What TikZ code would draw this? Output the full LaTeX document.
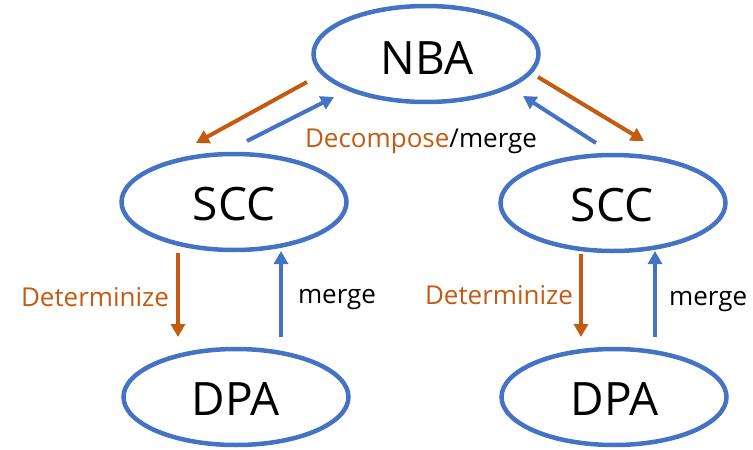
\documentclass[tikz,border=0pt]{standalone}
\usepackage{fontspec}
\setmainfont{Open Sans}
\usetikzlibrary{shapes.geometric,arrows.meta}
\definecolor{eblue}{HTML}{4472C4}
\definecolor{eorange}{HTML}{C55A11}
\tikzset{
  state/.style={ellipse,draw=eblue,line width=4.5pt,minimum width=225pt,minimum height=96pt,inner sep=0pt},
  big/.style={font=\fontsize{46}{46}\selectfont,text=black,anchor=base},
  lbl/.style={font=\fontsize{26}{26}\selectfont,anchor=base,inner sep=0pt},
  oarr/.style={draw=eorange,line width=4pt,-{Triangle[length=13pt,width=14pt]}},
  barr/.style={draw=eblue,line width=4pt,-{Triangle[length=13pt,width=14pt]}}
}
\begin{document}
\begin{tikzpicture}[x=1pt,y=-1pt]
\useasboundingbox (0,0) rectangle (753,450);
\node[state] (nba) at (426,54) {};
\node[state] (sccl) at (234,202) {};
\node[state] (sccr) at (613,203) {};
\node[state] (dpal) at (236,397) {};
\node[state] (dpar) at (614,397) {};
\node[big] (tnba) at (427,74) {NBA};
\node[big] (tsccl) at (234,220) {SCC};
\node[big] (tsccr) at (612,221) {SCC};
\node[big] (tdpal) at (236,415) {DPA};
\node[big] (tdpar) at (615,415) {DPA};
% arrow endpoints
\coordinate (o1s) at (307,82); \coordinate (o1e) at (196,143);
\coordinate (b1s) at (247,141); \coordinate (b1e) at (334,97);
\coordinate (o2s) at (538,77); \coordinate (o2e) at (644,141);
\coordinate (b2s) at (596,143); \coordinate (b2e) at (523,96);
\coordinate (o3s) at (178,253); \coordinate (o3e) at (178,337);
\coordinate (b3s) at (281,337); \coordinate (b3e) at (281,251);
\coordinate (o4s) at (581,254); \coordinate (o4e) at (581,337);
\coordinate (b4s) at (655,337); \coordinate (b4e) at (655,251);
\draw[oarr] (o1s) -- (o1e);
\draw[barr] (b1s) -- (b1e);
\draw[oarr] (o2s) -- (o2e);
\draw[barr] (b2s) -- (b2e);
\draw[oarr] (o3s) -- (o3e);
\draw[barr] (b3s) -- (b3e);
\draw[oarr] (o4s) -- (o4e);
\draw[barr] (b4s) -- (b4e);
\node[lbl] (dm) at (421,147) {\textcolor{eorange}{Decompose}/merge};
\node[lbl,text=eorange] (detl) at (95,306) {Determinize};
\node[lbl] (mrgl) at (337,303) {merge};
\node[lbl,text=eorange] (detr) at (499,304) {Determinize};
\node[lbl,anchor=base west] (mrgr) at (669,305) {merge};
\end{tikzpicture}
\end{document}
